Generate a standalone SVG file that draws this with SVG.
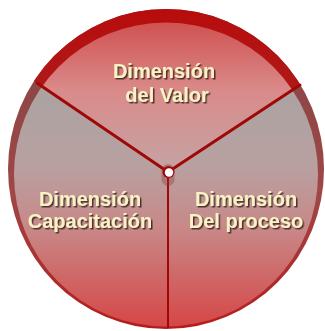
<svg xmlns="http://www.w3.org/2000/svg" width="325" height="331" viewBox="0 0 325 331">
  <defs>
    <linearGradient id="ringSide" gradientUnits="userSpaceOnUse" x1="0" y1="60" x2="0" y2="330">
      <stop offset="0" stop-color="#8a4646"/>
      <stop offset="0.5" stop-color="#a04646"/>
      <stop offset="1" stop-color="#b41c1c"/>
    </linearGradient>
    <linearGradient id="ringTop" gradientUnits="userSpaceOnUse" x1="0" y1="9" x2="0" y2="80">
      <stop offset="0" stop-color="#b80c0c"/>
      <stop offset="1" stop-color="#b01818"/>
    </linearGradient>
    <linearGradient id="fillSide" gradientUnits="userSpaceOnUse" x1="0" y1="80" x2="0" y2="327">
      <stop offset="0" stop-color="#a9a3a3"/>
      <stop offset="0.35" stop-color="#b9a0a0"/>
      <stop offset="0.6" stop-color="#c88888"/>
      <stop offset="1" stop-color="#d64646"/>
    </linearGradient>
    <linearGradient id="fillTop" gradientUnits="userSpaceOnUse" x1="0" y1="23" x2="0" y2="172">
      <stop offset="0" stop-color="#d05252"/>
      <stop offset="0.45" stop-color="#da8a8a"/>
      <stop offset="1" stop-color="#c4a4a4"/>
    </linearGradient>
    <clipPath id="outerClip"><ellipse cx="166" cy="169" rx="158" ry="160"/></clipPath>
    <clipPath id="innerClip"><circle cx="166" cy="174.5" r="152"/></clipPath>
    <filter id="shadow" x="-10%" y="-20%" width="130%" height="150%">
      <feDropShadow dx="1.5" dy="1.5" stdDeviation="0.7" flood-color="#3a2020" flood-opacity="0.85"/>
    </filter>
    <style>
      .lbl { font-family: "Liberation Sans", Arial, sans-serif; font-weight: bold; font-size: 20px; fill: #f8f2c4; text-anchor: middle; filter: url(#shadow); }
      .div { stroke: #a00808; stroke-linecap: round; fill: none; }
    </style>
  </defs>

  <!-- outer ring -->
  <g id="ring">
    <ellipse cx="166" cy="169" rx="158" ry="160" fill="url(#ringSide)"/>
    <polygon points="168,172 11,65 11,0 326,0 326,68" fill="url(#ringTop)" clip-path="url(#outerClip)"/>
    <path d="M20,255 A158,160 0 0 0 312,255" fill="none" stroke="#e06a6a" stroke-width="1" opacity="0.5" clip-path="url(#outerClip)"/>
  </g>

  <g id="seg-capacitacion">
    <polygon points="168,172 37,83 0,60 0,331 168,331" fill="url(#fillSide)" clip-path="url(#innerClip)"/>
    <text class="lbl" x="90" y="206">Dimensión</text>
    <text class="lbl" x="90" y="228">Capacitación</text>
  </g>

  <g id="seg-proceso">
    <polygon points="168,172 300,85 325,60 325,331 168,331" fill="url(#fillSide)" clip-path="url(#innerClip)"/>
    <text class="lbl" x="246" y="206">Dimensión</text>
    <text class="lbl" x="246" y="228">Del proceso</text>
  </g>

  <g id="seg-valor">
    <polygon points="168,172 37,83 11,65 11,0 326,0 326,68 300,85" fill="url(#fillTop)" clip-path="url(#innerClip)"/>
    <text class="lbl" x="164" y="78">Dimensión</text>
    <text class="lbl" x="167" y="102">del Valor</text>
  </g>

  <g id="connectors">
    <line class="div" x1="168" y1="172" x2="37" y2="83" stroke-width="3"/>
    <line class="div" x1="168" y1="172" x2="300" y2="85" stroke-width="3"/>
    <line class="div" x1="168" y1="172" x2="168" y2="327" stroke-width="2"/>
  </g>

  <g id="hub">
    <rect x="161.5" y="164" width="13" height="22" rx="6.5" fill="#8a3030" opacity="0.35"/>
    <circle cx="168.5" cy="172" r="6" fill="#a00808"/>
    <circle cx="169" cy="172.5" r="4.2" fill="#ffffff"/>
  </g>
</svg>
